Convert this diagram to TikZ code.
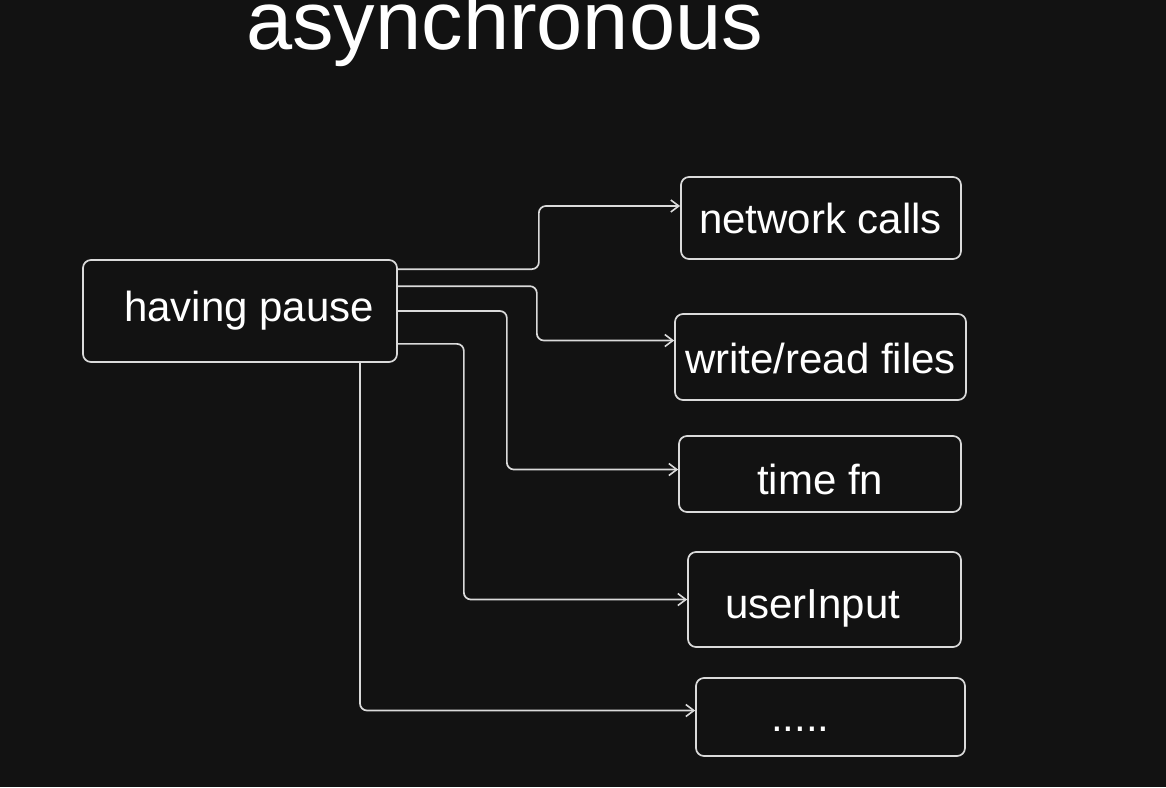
\documentclass[tikz,border=0pt]{standalone}
\usepackage{fontspec}
\setmainfont{Liberation Sans}
\usetikzlibrary{arrows.meta}
\definecolor{bg}{HTML}{121212}
\definecolor{ln}{HTML}{DADADA}
\tikzset{
  box/.style={draw=ln, line width=1.7pt, rounded corners=8pt, inner sep=0pt},
  lbl/.style={text=white, anchor=base west, inner sep=0pt, font=\fontsize{42}{50}\selectfont},
  conn/.style={draw=ln, line width=1.7pt, rounded corners=7pt, -{Straight Barb[length=8pt,width=12pt,line width=1.6pt]}}
}
\begin{document}
\begin{tikzpicture}[x=1pt,y=-1pt]
\fill[bg] (0,0) rectangle (1166,787);
\useasboundingbox (0,0) rectangle (1166,787);
% title
\node[text=white, anchor=base west, inner sep=0pt, font=\fontsize{83}{90}\selectfont] (title) at (246,49) {asynchronous};
% boxes
\node[box, minimum width=314pt, minimum height=102pt] (hp) at (240,311) {};
\node[box, minimum width=280pt, minimum height=82pt] (nc) at (821,218) {};
\node[box, minimum width=291pt, minimum height=86pt] (wr) at (820.5,357) {};
\node[box, minimum width=282pt, minimum height=76pt] (tf) at (820,474) {};
\node[box, minimum width=273pt, minimum height=95pt] (ui) at (824.5,599.5) {};
\node[box, minimum width=269pt, minimum height=78pt] (dt) at (830.5,717) {};
% labels
\node[lbl] (hpl) at (124,321) {having pause};
\node[lbl] (ncl) at (699,233) {network calls};
\node[lbl] (wrl) at (685,373) {write/read files};
\node[lbl] (tfl) at (757,494) {time fn};
\node[lbl] (uil) at (725,618) {userInput};
\node[lbl] (dtl) at (771,731) {.....};
% connectors
\draw[conn] ([yshift=-10pt]hp.north east) -- ++(141,0) |- ([yshift=12pt]nc.west);
\draw[conn] ([yshift=-27pt]hp.north east) -- ++(139,0) |- ([yshift=16.5pt]wr.west);
\draw[conn] (hp.east) -- ++(109,0) |- ([yshift=4.5pt]tf.west);
\draw[conn] ([yshift=19pt]hp.south east) -- ++(66,0) |- (ui.west);
\draw[conn] ([xshift=120pt]hp.south) |- ([yshift=6.5pt]dt.west);
\end{tikzpicture}
\end{document}
